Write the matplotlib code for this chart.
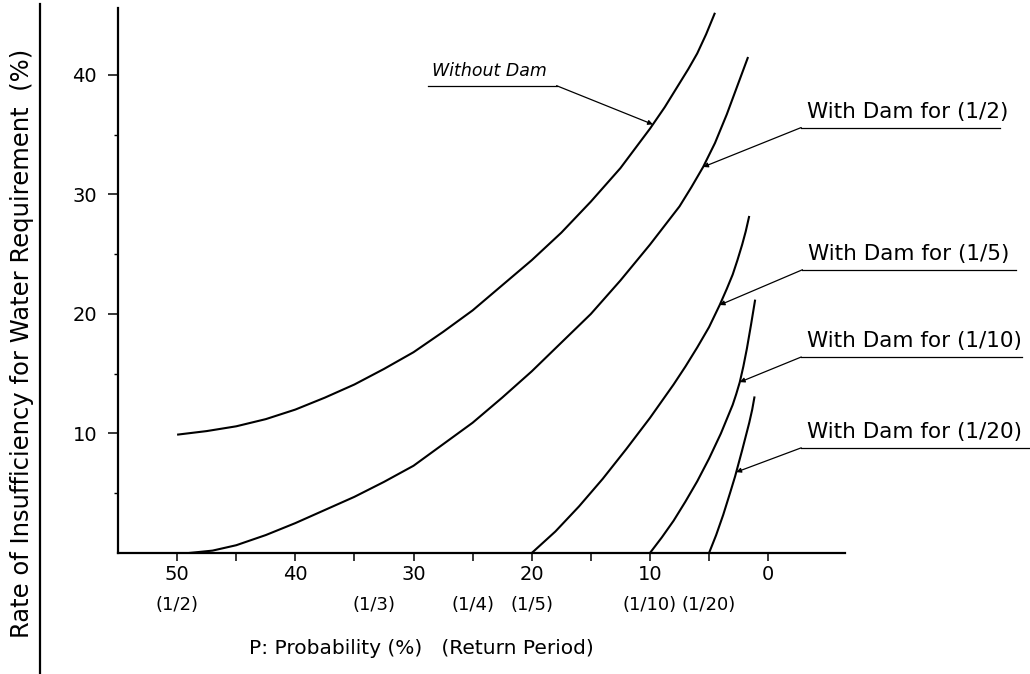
import numpy as np
import matplotlib
matplotlib.use('Agg')
import matplotlib.pyplot as plt
from matplotlib.lines import Line2D
from matplotlib.ticker import FixedLocator

# probability P (%) and rate of insufficiency (%) for each case
p_without = [50, 47.5, 45, 42.5, 40, 37.5, 35, 32.5, 30, 27.5, 25, 22.5, 20, 17.5, 15, 12.5, 10, 8.75, 7.5, 6.75, 6, 5.25, 4.5]
r_without = [9.9, 10.2, 10.6, 11.2, 12.0, 13.0, 14.1, 15.4, 16.8, 18.5, 20.3, 22.4, 24.5, 26.8, 29.4, 32.2, 35.5, 37.3, 39.3, 40.5, 41.8, 43.4, 45.2]

p_half = [49, 47, 45, 42.5, 40, 37.5, 35, 32.5, 30, 27.5, 25, 22.5, 20, 17.5, 15, 12.5, 10, 7.5, 6.5, 5.5, 4.5, 3.5, 2.6, 1.7]
r_half = [0.0, 0.2, 0.65, 1.5, 2.5, 3.6, 4.7, 5.95, 7.3, 9.1, 10.9, 13.0, 15.2, 17.6, 20.0, 22.8, 25.8, 29.0, 30.6, 32.3, 34.3, 36.7, 39.1, 41.5]

p_fifth = [20, 18, 16, 14, 12, 10, 8, 7, 6, 5, 4.1, 3.5, 3, 2.6, 2.2, 1.9, 1.6]
r_fifth = [0, 1.8, 3.9, 6.2, 8.7, 11.3, 14.1, 15.6, 17.2, 18.9, 20.75, 22.1, 23.3, 24.5, 25.8, 26.9, 28.2]

p_tenth = [10, 9, 8, 7, 6, 5, 4, 3.5, 3, 2.7, 2.4, 2.1, 1.8, 1.45, 1.1]
r_tenth = [0, 1.3, 2.7, 4.3, 6.0, 7.9, 10.0, 11.2, 12.4, 13.3, 14.3, 15.6, 17.1, 19.1, 21.2]

p_twentieth = [5, 4.4, 3.8, 3.2, 2.8, 2.2, 1.6, 1.35, 1.15]
r_twentieth = [0, 1.5, 3.2, 5.1, 6.4, 8.6, 10.9, 12.0, 13.1]

curve_names = ['Without Dam', 'With Dam for (1/2)', 'With Dam for (1/5)',
               'With Dam for (1/10)', 'With Dam for (1/20)']
curves = [(p_without, r_without), (p_half, r_half), (p_fifth, r_fifth),
          (p_tenth, r_tenth), (p_twentieth, r_twentieth)]
# P where each leader arrow touches its curve
tip_p = [9.75, 5.5, 4.1, 2.4, 2.7]

x_major = [50, 40, 30, 20, 10, 0]
x_minor = [45, 35, 25, 15, 5]
y_major = [10, 20, 30, 40]
y_minor = [5, 15, 25, 35]

rp_pos = [50, 100 / 3, 25, 20, 10, 5]
rp_labels = ['(1/2)', '(1/3)', '(1/4)', '(1/5)', '(1/10)', '(1/20)']

fig = plt.figure(figsize=(10.3, 6.74), dpi=100)
ax = fig.add_axes([118 / 1030, 1 - 553 / 674, (845 - 118) / 1030, (553 - 8) / 674])

for p, r in curves:
    ax.plot(p, r, color='black', lw=1.5, solid_capstyle='butt', solid_joinstyle='round')

ax.set_xlim(55, -6.5)
ax.set_ylim(0, 45.6)
for s in ['top', 'right']:
    ax.spines[s].set_visible(False)
for s in ['left', 'bottom']:
    ax.spines[s].set_linewidth(1.6)

ax.xaxis.set_major_locator(FixedLocator(x_major))
ax.xaxis.set_minor_locator(FixedLocator(x_minor))
ax.set_xticklabels([str(v) for v in x_major])
ax.yaxis.set_major_locator(FixedLocator(y_major))
ax.yaxis.set_minor_locator(FixedLocator(y_minor))
ax.set_yticklabels([str(v) for v in y_major])
ax.tick_params(axis='x', which='both', direction='out', length=6, width=1.1, labelsize=14, pad=3)
ax.tick_params(axis='y', which='major', direction='out', length=7, width=1.1, labelsize=14, pad=8)
ax.tick_params(axis='y', which='minor', direction='out', length=3, width=1.0)

# return period under each probability
for x, t in zip(rp_pos, rp_labels):
    ax.text(x, -0.095, t, transform=ax.get_xaxis_transform(), ha='center', va='center', fontsize=13)

fig.text(421 / 1030, 1 - 648 / 674, 'P: Probability (%)   (Return Period)', ha='center', va='center', fontsize=14.5)
fig.text(22 / 1030, 1 - 343 / 674, 'Rate of Insufficiency for Water Requirement  (%)',
         rotation=90, ha='center', va='center', fontsize=17.5)
fig.add_artist(Line2D([40 / 1030, 40 / 1030], [0, 1 - 4 / 674], color='black', lw=1.6))

# curve labels with underline and leader arrow
line_y = [39.1, 35.6, 23.7, 16.4, 8.8]
line_x0 = [28.8, -2.8, -2.9, -2.8, -2.8]
line_x1 = [17.9, -19.6, -21.0, -21.5, -22.1]
for i, name in enumerate(curve_names):
    p, r = curves[i]
    tip_r = np.interp(tip_p[i], p[::-1], r[::-1])
    y = line_y[i]
    ax.add_line(Line2D([line_x0[i], line_x1[i]], [y, y], color='black', lw=0.9, clip_on=False))
    if i == 0:
        ax.text(line_x0[i] - 0.4, y + 0.5, name, fontsize=12.5, style='italic', ha='left', va='bottom')
        start = line_x1[i]
    else:
        ax.text(line_x0[i] - 0.5, y + 0.5, name, fontsize=15.5, ha='left', va='bottom', clip_on=False)
        start = line_x0[i]
    ax.annotate('', xy=(tip_p[i], tip_r), xytext=(start, y),
                arrowprops=dict(arrowstyle='-|>', lw=0.9, color='black', mutation_scale=7,
                                shrinkA=0, shrinkB=0), annotation_clip=False)

fig.savefig('out.png', dpi=100)
